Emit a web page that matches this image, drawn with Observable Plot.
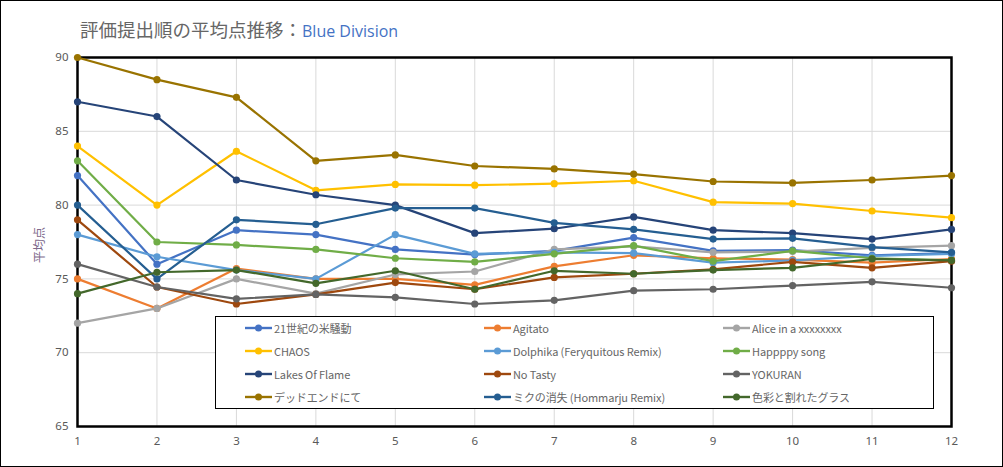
<!DOCTYPE html>
<html><head><meta charset="utf-8">
<script src="https://cdn.jsdelivr.net/npm/d3@7"></script>
<script src="https://cdn.jsdelivr.net/npm/@observablehq/plot@0.6"></script>
<style>
body{margin:0;background:#fff;font-family:"Noto Sans CJK JP","Noto Sans",sans-serif;}
#chart{position:relative;width:1001px;height:465px;border:1px solid #000;overflow:hidden;background:#fff}
#title{position:absolute;left:79px;top:15px;font-size:18.5px;color:#666666;white-space:nowrap;line-height:26px}
#title span{color:#4472C4;font-family:"Open Sans","Noto Sans",sans-serif;font-size:16px}
#plot{position:absolute;left:0;top:39px}
#ylabel{position:absolute;left:37px;top:244px;transform:translate(-50%,-50%) rotate(-90deg);font-size:12px;color:#7e6a8c;white-space:nowrap}
#legend{position:absolute;left:214px;top:315px;width:717px;height:91px;border:1px solid #000;background:#fff}
.item{position:absolute;height:16px;display:flex;align-items:center;font-size:11px;color:#666666;white-space:nowrap;letter-spacing:-0.1px}
.item svg{margin-right:2px}
</style></head>
<body>
<div id="chart">
  <div id="title">評価提出順の平均点推移：<span>Blue Division</span></div>
  <div id="plot"></div>
  <div id="ylabel">平均点</div>
  <div id="legend"></div>
</div>
<script>
const rounds = [1,2,3,4,5,6,7,8,9,10,11,12];
const yTicks = [65,70,75,80,85,90];
const seriesNames = ["21世紀の米騒動","Agitato","Alice in a xxxxxxxx","CHAOS","Dolphika (Feryquitous Remix)","Happppy song","Lakes Of Flame","No Tasty","YOKURAN","デッドエンドにて","ミクの消失 (Hommarju Remix)","色彩と割れたグラス"];
const seriesColors = ["#4472C4","#ED7D31","#A5A5A5","#FFC000","#5B9BD5","#70AD47","#264478","#9E480E","#636363","#997300","#255E91","#43682B"];

const kome     = [82,76.0,78.3,78.0,77.0,76.65,76.9,77.8,76.9,76.95,76.6,76.75];
const agitato  = [75,73.0,75.7,75.0,75.0,74.6,75.85,76.6,76.4,76.3,76.1,76.35];
const alice    = [72,73.0,75.0,74.0,75.3,75.5,77.0,77.2,76.8,76.85,77.1,77.25];
const chaos    = [84,80.0,83.65,81.0,81.4,81.35,81.45,81.65,80.2,80.1,79.6,79.15];
const dolphika = [78,76.5,75.6,75.0,78.0,76.7,76.8,76.75,76.1,76.25,76.55,76.7];
const happy    = [83,77.5,77.3,77.0,76.4,76.15,76.7,77.25,76.2,76.9,76.4,76.25];
const lakes    = [87,86.0,81.7,80.7,80.0,78.1,78.4,79.2,78.3,78.1,77.7,78.35];
const notasty  = [79,74.45,73.3,73.95,74.75,74.3,75.1,75.35,75.65,76.15,75.75,76.2];
const yokuran  = [76,74.45,73.65,73.95,73.75,73.3,73.55,74.2,74.3,74.55,74.8,74.4];
const deadend  = [90,88.5,87.3,83.0,83.4,82.65,82.45,82.1,81.6,81.5,81.7,82.0];
const miku     = [80,75.0,79.0,78.7,79.8,79.8,78.8,78.35,77.7,77.75,77.15,76.8];
const shikisai = [74,75.45,75.6,74.7,75.55,74.3,75.55,75.35,75.6,75.75,76.35,76.25];

const seriesValues = [kome,agitato,alice,chaos,dolphika,happy,lakes,notasty,yokuran,deadend,miku,shikisai];

const table = [];
seriesNames.forEach((name,i)=>{
  rounds.forEach((r,j)=>table.push({series:name, round:r, score:seriesValues[i][j]}));
});

const perSeriesMarks = seriesNames.flatMap(name=>{
  const d = table.filter(t=>t.series===name);
  return [
    Plot.line(d,{x:"round",y:"score",stroke:"series",strokeWidth:2.2}),
    Plot.dot(d,{x:"round",y:"score",fill:"series",r:3.6})
  ];
});

const chart = Plot.plot({
  width:999, height:420,
  marginLeft:76, marginRight:49, marginTop:17, marginBottom:34,
  style:{fontFamily:'"Noto Sans","Open Sans",sans-serif',fontSize:"11.5px",color:"#595959",background:"transparent"},
  x:{domain:[1,12]},
  y:{domain:[65,90]},
  color:{domain:seriesNames, range:seriesColors},
  marks:[
    Plot.gridX(rounds,{stroke:"#d9d9d9",strokeOpacity:1,strokeWidth:1}),
    Plot.gridY(yTicks,{stroke:"#d9d9d9",strokeOpacity:1,strokeWidth:1}),
    Plot.frame({stroke:"#000",strokeWidth:2.5}),
    Plot.axisX(rounds,{tickSize:0,tickPadding:10,label:null,fill:"#595959"}),
    Plot.axisY(yTicks,{tickSize:0,tickPadding:9,label:null,fill:"#595959"}),
    ...perSeriesMarks
  ]
});
document.getElementById("plot").appendChild(chart);

// legend
const legend = document.getElementById("legend");
const colX = [29,268,507];
const rowY = [10.7,33.6,56.5,79.5];
seriesNames.forEach((name,i)=>{
  const row = Math.floor(i/3), col = i%3;
  const el = document.createElement("div");
  el.className = "item";
  el.style.left = colX[col]+"px";
  el.style.top = (rowY[row]-8)+"px";
  const c = seriesColors[i];
  el.innerHTML = `<svg width="27" height="10"><line x1="0" y1="5" x2="27" y2="5" stroke="${c}" stroke-width="2.4"/><circle cx="13.5" cy="5" r="3.5" fill="${c}"/></svg>`;
  const t = document.createElement("span");
  t.textContent = name;
  el.appendChild(t);
  legend.appendChild(el);
});
</script>
</body></html>
